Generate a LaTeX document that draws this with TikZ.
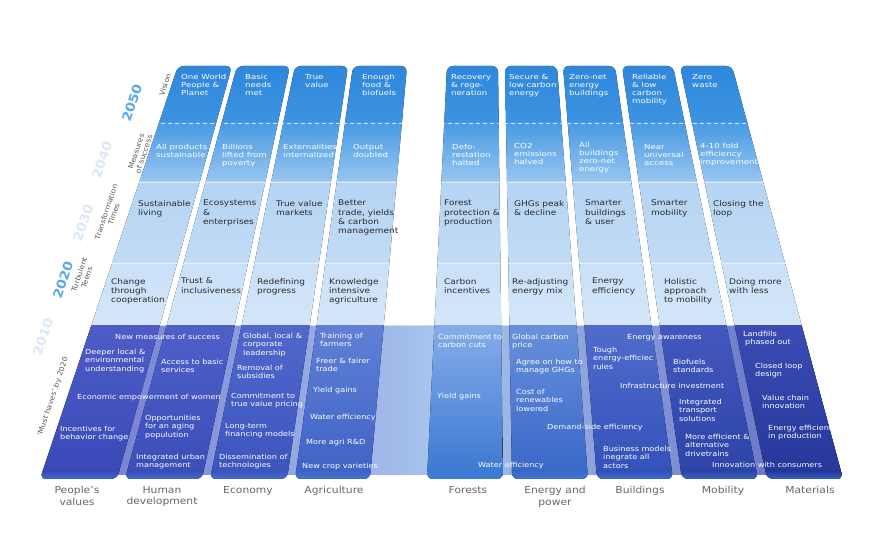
\documentclass[tikz,border=0pt]{standalone}
\usepackage{fontspec}
\setmainfont{DejaVu Sans}[FakeStretch=1.12]
\newfontfamily\visf{DejaVu Sans}[FakeStretch=1.25]
\newfontfamily\traf{DejaVu Sans}[FakeStretch=1.15]
\newfontfamily\bndf{DejaVu Sans}[FakeStretch=1.16]
\definecolor{vA}{HTML}{2E86DC}
\definecolor{vB}{HTML}{3C93E0}
\definecolor{mA}{HTML}{489BE4}
\definecolor{mB}{HTML}{98C6F0}
\definecolor{tA}{HTML}{B4D4F4}
\definecolor{tB}{HTML}{C2DBF5}
\definecolor{uA}{HTML}{C9E0F7}
\definecolor{uB}{HTML}{D4E7F9}
\definecolor{aA}{HTML}{4E5CC6}\definecolor{aB}{HTML}{3A4AB8}
\definecolor{bA}{HTML}{4E60C8}\definecolor{bB}{HTML}{3B4EBA}
\definecolor{cA}{HTML}{5068CC}\definecolor{cB}{HTML}{3D56BE}
\definecolor{dA}{HTML}{6080D6}\definecolor{dB}{HTML}{4064C6}
\definecolor{eA}{HTML}{86ACE8}\definecolor{eB}{HTML}{3D7AD2}
\definecolor{fA}{HTML}{6890DC}\definecolor{fB}{HTML}{3A68C8}
\definecolor{gA}{HTML}{4F6CCC}\definecolor{gB}{HTML}{3452BA}
\definecolor{hA}{HTML}{4358BE}\definecolor{hB}{HTML}{2D44A8}
\definecolor{iA}{HTML}{3A4CB4}\definecolor{iB}{HTML}{27379A}
\definecolor{rim}{HTML}{3F80DE}
\definecolor{bandL}{HTML}{6D74CE}
\definecolor{bandM}{HTML}{A9C5EE}
\definecolor{bandR}{HTML}{5E68C0}
\definecolor{yrBlue}{HTML}{5AAAE8}
\definecolor{yrPale}{HTML}{DCE8F6}
\definecolor{txtDark}{HTML}{2A2A2A}
\begin{document}
\begin{tikzpicture}[x=1pt,y=-1pt,
  vis/.style={anchor=north west, inner sep=0pt, align=left, text=white, font=\visf\fontsize{6.9}{8.05}\selectfont},
  mea/.style={anchor=north west, inner sep=0pt, align=left, text=white, font=\visf\fontsize{6.9}{8.05}\selectfont},
  tra/.style={anchor=north west, inner sep=0pt, align=left, text=txtDark, font=\traf\fontsize{7.8}{9.2}\selectfont},
  bnd/.style={anchor=north west, inner sep=0pt, align=left, text=white, font=\bndf\fontsize{7.0}{8.3}\selectfont},
  cat/.style={anchor=north, inner sep=0pt, align=center, text=black!60, font=\fontsize{9.6}{11.7}\selectfont},
  yr/.style={rotate=71.5, inner sep=0pt, font=\bfseries\fontsize{12.5}{12.5}\selectfont},
  lab/.style={rotate=71.5, inner sep=0pt, align=center, text=black!65, font=\fontsize{6.9}{8.1}\selectfont}]
\fill[white] (0,0) rectangle (879,534);
\useasboundingbox (0,0) rectangle (879,534);
% band behind columns
\fill[left color=bandL, right color=bandR, middle color=bandM] (91.5,326) -- (801.6,326) -- (842,475) -- (41.7,475) -- cycle;
% columns
\foreach \tl/\tr/\bl/\br/\ca/\cb in {178/232/40/117/aA/aB, 237/290/125/202/bA/bB, 295/348/210/287/cA/cB, 353/407/295/370/dA/dB, 447/498/427/503/eA/eB, 505/557/512/588/fA/fB, 563/615/597/673/gA/gB, 622/673/682/758/hA/hB, 680/732/767/843/iA/iB}{
  \begin{scope}
    \clip[rounded corners=6pt] (\tl,66) -- (\tr,66) -- (\br,479) -- (\bl,479) -- cycle;
    \fill[top color=vA, bottom color=vB] (0,60) rectangle (879,123);
    \fill[top color=mA, bottom color=mB] (0,123) rectangle (879,182);
    \fill[top color=tA, bottom color=tB] (0,182) rectangle (879,263);
    \fill[top color=uA, bottom color=uB] (0,263) rectangle (879,326);
    \fill[top color=\ca, bottom color=\cb] (0,326) rectangle (879,471);
    \fill[top color=\cb, bottom color=rim] (0,471) rectangle (879,485);
    \draw[white, opacity=0.75, line width=0.9pt, dash pattern=on 4pt off 3pt] (0,123) -- (879,123);
    \draw[white, opacity=0.55, line width=0.8pt] (0,182) -- (879,182);
    \draw[white, opacity=0.55, line width=0.8pt] (0,263) -- (879,263);
  \end{scope}
}
% left labels
\node[yr, text=yrBlue] (y2050) at (132,103) {2050};
\node[lab] (lvis) at (165,85) {Vision};
\node[yr, text=yrPale] (y2040) at (102,160) {2040};
\node[lab] (lmea) at (140,153) {Measures\\of success};
\node[yr, text=yrPale] (y2030) at (83,223) {2030};
\node[lab] (ltra) at (110,213) {Transformation\\Times};
\node[yr, text=yrBlue] (y2020) at (63,280) {2020};
\node[lab] (ltur) at (83,276) {Turbulent\\Teens};
\node[yr, text=yrPale] (y2010) at (43,337) {2010};
\node[lab] (lmust) at (53,397) {‘Must haves’ by 2020};
% vision row
\node[vis] (v1) at (181,74) {One World\\People \&\\Planet};
\node[vis] (v2) at (245,74) {Basic\\needs\\met};
\node[vis] (v3) at (305,74) {True\\value};
\node[vis] (v4) at (362,74) {Enough\\food \&\\biofuels};
\node[vis] (v5) at (451,74) {Recovery\\\& rege-\\neration};
\node[vis] (v6) at (509,74) {Secure \&\\low carbon\\energy};
\node[vis] (v7) at (569,74) {Zero-net\\energy\\buildings};
\node[vis] (v8) at (632,74) {Reliable\\\& low\\carbon\\mobility};
\node[vis] (v9) at (692,74) {Zero\\waste};
% measures row
\node[mea] (m1) at (156,144) {All products\\sustainable};
\node[mea] (m2) at (222,144) {Billions\\lifted from\\poverty};
\node[mea] (m3) at (283,144) {Externalities\\internalized};
\node[mea] (m4) at (353,144) {Output\\doubled};
\node[mea] (m5) at (452,144) {Defo-\\restation\\halted};
\node[mea] (m6) at (514,143) {CO2\\emissions\\halved};
\node[mea] (m7) at (579,142) {All\\buildings\\zero-net\\energy};
\node[mea] (m8) at (644,144) {Near\\universal\\access};
\node[mea] (m9) at (700,143) {4-10 fold\\efficiency\\improvement};
% transformation row
\node[tra] (r1) at (138,200) {Sustainable\\living};
\node[tra] (r2) at (203,200) {Ecosystems\\\&\\enterprises};
\node[tra] (r3) at (276,200) {True value\\markets};
\node[tra] (r4) at (338,200) {Better\\trade, yields\\\& carbon\\management};
\node[tra] (r5) at (444,200) {Forest\\protection \&\\production};
\node[tra] (r6) at (514,200) {GHGs peak\\\& decline};
\node[tra] (r7) at (585,200) {Smarter\\buildings\\\& user};
\node[tra] (r8) at (651,200) {Smarter\\mobility};
\node[tra] (r9) at (713,200) {Closing the\\loop};
% turbulent row
\node[tra] (u1) at (111,278) {Change\\through\\cooperation};
\node[tra] (u2) at (181,278) {Trust \&\\inclusiveness};
\node[tra] (u3) at (257,278) {Redefining\\progress};
\node[tra] (u4) at (329,278) {Knowledge\\intensive\\agriculture};
\node[tra] (u5) at (444,278) {Carbon\\incentives};
\node[tra] (u6) at (512,278) {Re-adjusting\\energy mix};
\node[tra] (u7) at (592,278) {Energy\\efficiency};
\node[tra] (u8) at (664,278) {Holistic\\approach\\to mobility};
\node[tra] (u9) at (729,278) {Doing more\\with less};
% must haves band
\node[bnd] (b1) at (115,334) {New measures of success};
\node[bnd] (b2) at (85,349) {Deeper local \&\\environmental\\understanding};
\node[bnd] (b3) at (161,359) {Access to basic\\services};
\node[bnd] (b4) at (77,394) {Economic empowerment of women};
\node[bnd] (b5) at (145,415) {Opportunities\\for an aging\\populution};
\node[bnd] (b6) at (60,426) {Incentives for\\behavior change};
\node[bnd] (b7) at (136,454) {Integrated urban\\management};
\node[bnd] (b8) at (243,333) {Global, local \&\\corporate\\leadership};
\node[bnd] (b9) at (237,365) {Removal of\\subsidies};
\node[bnd] (b10) at (231,393) {Commitment to\\true value pricing};
\node[bnd] (b11) at (225,423) {Long-term\\financing models};
\node[bnd] (b12) at (219,454) {Dissemination of\\technologies};
\node[bnd] (b13) at (320,333) {Training of\\farmers};
\node[bnd] (b14) at (316,358) {Freer \& fairer\\trade};
\node[bnd] (b15) at (313,387) {Yield gains};
\node[bnd] (b16) at (310,414) {Water efficiency};
\node[bnd] (b17) at (306,439) {More agri R\&D};
\node[bnd] (b18) at (302,463) {New crop varieties};
\node[bnd] (b19) at (438,334) {Commitment to\\carbon cuts};
\node[bnd] (b20) at (437,393) {Yield gains};
\node[bnd] (b21) at (478,462) {Water efficiency};
\node[bnd] (b22) at (512,334) {Global carbon\\price};
\node[bnd] (b23) at (516,359) {Agree on how to\\manage GHGs};
\node[bnd] (b24) at (516,389) {Cost of\\renewables\\lowered};
\node[bnd] (b25) at (547,424) {Demand-side efficiency};
\node[bnd] (b26) at (627,334) {Energy awareness};
\node[bnd] (b27) at (593,347) {Tough\\energy-efficiec\\rules};
\node[bnd] (b28) at (620,383) {Infrastructure investment};
\node[bnd] (b29) at (603,446) {Business models\\inegrate all\\actors};
\node[bnd] (b30) at (673,359) {Biofuels\\standards};
\node[bnd] (b31) at (679,399) {Integrated\\transport\\solutions};
\node[bnd] (b32) at (685,434) {More efficient \&\\alternative\\drivetrains};
\node[bnd] (b33) at (743,331) {Landfills\\\hspace{2pt}phased out};
\node[bnd] (b34) at (755,363) {Closed loop\\design};
\node[bnd] (b35) at (762,395) {Value chain\\innovation};
\node[bnd] (b36) at (768,425) {Energy efficiency\\in production};
\node[bnd] (b37) at (712,462) {Innovation with consumers};
% categories
\node[cat] (c1) at (77,486) {People’s\\values};
\node[cat] (c2) at (162,486) {Human\\development};
\node[cat] (c3) at (248,486) {Economy};
\node[cat] (c4) at (334,486) {Agriculture};
\node[cat] (c5) at (468,486) {Forests};
\node[cat] (c6) at (555,486) {Energy and\\power};
\node[cat] (c7) at (640,486) {Buildings};
\node[cat] (c8) at (723,486) {Mobility};
\node[cat] (c9) at (810,486) {Materials};
\end{tikzpicture}
\end{document}
